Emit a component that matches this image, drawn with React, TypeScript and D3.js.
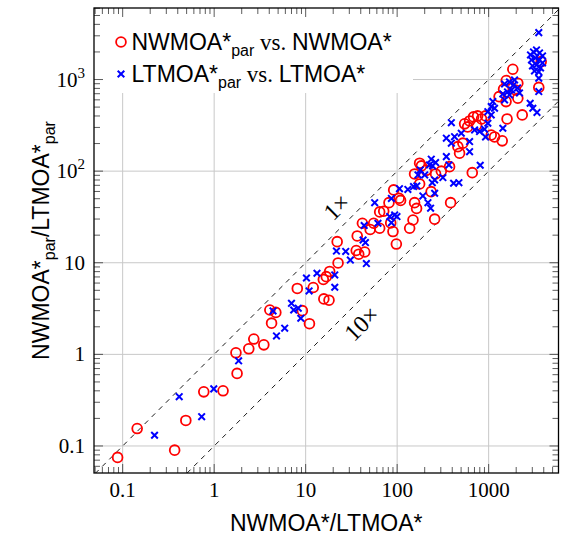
import React, { useEffect, useRef } from 'react';
import * as d3 from 'd3';

const W = 561;
const H = 535;

// NWMOA*par vs. NWMOA* (red circles), [x, y]
const nwmoaPoints: [number, number][] = [
  [0.088, 0.075], [0.144, 0.155], [0.37, 0.09], [0.49, 0.19], [0.77, 0.39], [1.25, 0.4],
  [1.73, 1.04], [1.78, 0.62], [2.39, 1.15], [2.71, 1.47], [3.49, 1.27], [4.24, 2.19],
  [4.06, 3.05], [4.72, 2.87], [9.2, 3.0], [11.0, 2.16], [8.1, 5.24], [12.1, 5.37],
  [15.6, 6.57], [16.8, 7.05], [18.3, 8.04], [15.8, 4.03], [18.0, 3.9], [22.6, 9.95],
  [22.1, 17.0], [35.7, 13.6], [38.0, 12.4], [44.2, 13.1], [36.6, 19.6], [41.7, 27.0],
  [50.7, 23.1], [55.4, 27.0], [64.4, 23.8], [64.4, 35.9], [71.3, 36.5], [81.4, 45.3],
  [85, 27.2], [90, 21.9], [98, 16.0], [91.6, 62.4], [105, 50.6], [109, 47.9],
  [155, 45.3], [163, 39.2], [149, 29.3], [137, 23.8], [176, 72.5], [235, 59.7],
  [257, 29.9], [384, 45.3], [155, 93.2], [184, 114], [208, 102], [263, 93.2],
  [304, 100], [176, 122], [374, 112], [662, 96.3], [461, 185], [481, 157],
  [523, 202], [546, 328], [589, 304], [619, 353], [684, 391], [757, 401],
  [836, 371], [925, 401], [738, 319], [1067, 248], [1160, 236], [1407, 214],
  [1589, 371], [2328, 411], [1300, 650], [1549, 574], [1455, 784], [1556, 973],
  [1837, 1295], [2084, 912], [1967, 769], [2084, 625], [3750, 1567], [3532, 820],
];

// LTMOA*par vs. LTMOA* (blue crosses), [x, y]
const ltmoaPoints: [number, number][] = [
  [0.223, 0.131], [0.415, 0.345], [0.73, 0.209], [0.99, 0.42], [1.85, 0.85], [4.8, 1.59],
  [5.9, 1.93], [4.4, 2.98], [7.0, 3.61], [7.4, 3.05], [8.3, 3.19], [8.85, 2.48],
  [10.9, 4.92], [10.2, 6.82], [13.3, 7.68], [20.8, 7.36], [20.8, 5.4], [21.7, 13.4],
  [27.4, 13.3], [30.8, 10.7], [46.1, 9.8], [42.4, 17.7], [45, 16.6], [43.6, 25.5],
  [61.7, 27.0], [56.8, 45.3], [82.8, 31.9], [94, 33.3], [99.5, 31.9], [86.5, 27.4],
  [86.5, 50.4], [106, 64.3], [131, 63.1], [151, 67.8], [164, 68.9], [191, 53.6],
  [217, 45.3], [232, 39.4], [257, 57.4], [242, 74.9], [414, 73.8], [473, 74.9],
  [169, 91], [179, 103], [226, 117], [263, 124], [236, 135], [244, 114],
  [200, 91], [316, 85], [257, 80.2], [368, 117], [809, 116], [391, 338],
  [345, 229], [391, 202], [424, 238], [502, 259], [619, 210], [619, 163],
  [702, 282], [796, 270], [902, 287], [980, 333], [1067, 411], [1067, 506],
  [1429, 294], [980, 446], [1112, 574], [1160, 486], [1493, 599], [1429, 697],
  [1690, 679], [2844, 551], [3040, 486], [3375, 437], [3530, 1033], [3530, 738],
  [3530, 3250], [2866, 1857], [3090, 2000], [3334, 2104], [3597, 1951], [3880, 1810],
  [2940, 1637], [3250, 1722], [3597, 1637], [3013, 1408], [3334, 1443], [3690, 1339],
  [3170, 1241], [3530, 1211], [3880, 1518], [1493, 896], [1690, 942], [1871, 873],
  [2069, 810], [1778, 769], [1608, 732], [2173, 714], [1919, 990], [345, 144],
  [925, 236],
];

const xTickValues = [0.1, 1, 10, 100, 1000];
const xTickLabels = ['0.1', '1', '10', '100', '1000'];
const yTickValues = [0.1, 1, 10, 100, 1000];
const yTickBase = ['0.1', '1', '10', '10', '10'];
const yTickExp = ['', '', '', '2', '3'];

// ratio lines y = x / factor, with their labels
const ratioFactors = [1, 10];
const ratioLabels = ['1×', '10×'];
const ratioLabelPos: [number, number][] = [[21.7, 40.9], [40.6, 2.19]];

const SANS = '"Liberation Sans", Arial, sans-serif';
const SERIF = '"Liberation Serif", "Times New Roman", serif';

const App = () => {
  const svgRef = useRef<SVGSVGElement>(null);

  useEffect(() => {
    if (!svgRef.current) return;
    const svg = d3.select(svgRef.current);
    svg.selectAll('*').remove();

    const x = d3.scaleLog().domain([0.0486, 5800]).range([94, 558.5]);
    const y = d3.scaleLog().domain([0.0507, 6035]).range([473, 8]);
    const [xl, xr] = x.range();
    const [yb, yt] = y.range();

    svg.append('defs').append('clipPath').attr('id', 'plotclip')
      .append('rect')
      .attr('x', xl).attr('y', yt)
      .attr('width', xr - xl).attr('height', yb - yt);

    // major grid
    const grid = svg.append('g').attr('stroke', '#c8c8c8').attr('stroke-width', 1);
    grid.selectAll('.gx').data(xTickValues).enter().append('line')
      .attr('x1', d => x(d)).attr('x2', d => x(d))
      .attr('y1', yt).attr('y2', yb);
    grid.selectAll('.gy').data(yTickValues).enter().append('line')
      .attr('y1', d => y(d)).attr('y2', d => y(d))
      .attr('x1', xl).attr('x2', xr);

    // dashed ratio lines
    const plot = svg.append('g').attr('clip-path', 'url(#plotclip)');
    const line = d3.line<[number, number]>().x(d => x(d[0])).y(d => y(d[1]));
    const [dMin, dMax] = [0.001, 100000];
    ratioFactors.forEach(f => {
      plot.append('path')
        .attr('d', line([[dMin, dMin / f], [dMax, dMax / f]]))
        .attr('fill', 'none')
        .attr('stroke', '#000')
        .attr('stroke-width', 0.9)
        .attr('stroke-dasharray', '5,5');
    });

    // red circles
    plot.selectAll('.nw').data(nwmoaPoints).enter().append('circle')
      .attr('cx', d => x(d[0])).attr('cy', d => y(d[1]))
      .attr('r', 4.9)
      .attr('fill', 'none')
      .attr('stroke', '#ff0000')
      .attr('stroke-width', 1.8);

    // blue crosses
    const cross = 'M-3.3,-3.3L3.3,3.3M-3.3,3.3L3.3,-3.3';
    plot.selectAll('.lt').data(ltmoaPoints).enter().append('path')
      .attr('d', cross)
      .attr('transform', d => `translate(${x(d[0])},${y(d[1])})`)
      .attr('fill', 'none')
      .attr('stroke', '#0000ff')
      .attr('stroke-width', 2);

    // ratio labels
    ratioLabels.forEach((t, i) => {
      const [lx, ly] = ratioLabelPos[i];
      svg.append('text')
        .attr('transform', `translate(${x(lx)},${y(ly)}) rotate(-45)`)
        .attr('text-anchor', 'middle')
        .attr('dy', '0.35em')
        .attr('font-family', SERIF)
        .attr('font-size', 24)
        .text(t);
    });

    // legend background
    svg.append('rect')
      .attr('x', xl).attr('y', yt)
      .attr('width', 413 - xl).attr('height', 93 - yt)
      .attr('fill', '#fff');

    // ticks (all four sides, inward)
    const minorX = x.ticks().filter(v => !xTickValues.includes(v));
    const minorY = y.ticks().filter(v => !yTickValues.includes(v));
    const ticks = svg.append('g').attr('stroke', '#333').attr('stroke-width', 0.8);
    const drawX = (vals: number[], len: number) => {
      vals.forEach(v => {
        ticks.append('line').attr('x1', x(v)).attr('x2', x(v)).attr('y1', yb).attr('y2', yb - len);
        ticks.append('line').attr('x1', x(v)).attr('x2', x(v)).attr('y1', yt).attr('y2', yt + len);
      });
    };
    const drawY = (vals: number[], len: number) => {
      vals.forEach(v => {
        ticks.append('line').attr('y1', y(v)).attr('y2', y(v)).attr('x1', xl).attr('x2', xl + len);
        ticks.append('line').attr('y1', y(v)).attr('y2', y(v)).attr('x1', xr).attr('x2', xr - len);
      });
    };
    drawX(minorX, 6);
    drawX(xTickValues, 9);
    drawY(minorY, 6);
    drawY(yTickValues, 9);

    // frame
    svg.append('rect')
      .attr('x', xl).attr('y', yt)
      .attr('width', xr - xl).attr('height', yb - yt)
      .attr('fill', 'none')
      .attr('stroke', '#000')
      .attr('stroke-width', 1.3);

    // x tick labels
    svg.selectAll('.xl').data(xTickValues).enter().append('text')
      .attr('x', d => x(d)).attr('y', 497)
      .attr('text-anchor', 'middle')
      .attr('font-family', SERIF)
      .attr('font-size', 21)
      .text((d, i) => xTickLabels[i]);

    // y tick labels
    yTickValues.forEach((v, i) => {
      const t = svg.append('text')
        .attr('x', 85).attr('y', y(v) + 7)
        .attr('text-anchor', 'end')
        .attr('font-family', SERIF)
        .attr('font-size', 21);
      t.append('tspan').text(yTickBase[i]);
      if (yTickExp[i]) {
        t.append('tspan').attr('font-size', 15).attr('dy', -9).text(yTickExp[i]);
      }
    });

    // axis titles
    svg.append('text')
      .attr('x', (xl + xr) / 2).attr('y', 531)
      .attr('text-anchor', 'middle')
      .attr('font-family', SANS)
      .attr('font-size', 23)
      .text('NWMOA*/LTMOA*');

    const yTitle = svg.append('text')
      .attr('transform', `translate(49,${(yt + yb) / 2}) rotate(-90)`)
      .attr('text-anchor', 'middle')
      .attr('font-family', SANS)
      .attr('font-size', 23);
    yTitle.append('tspan').text('NWMOA*');
    yTitle.append('tspan').attr('font-size', 16).attr('dy', 6).text('par');
    yTitle.append('tspan').attr('dy', -6).text('/LTMOA*');
    yTitle.append('tspan').attr('font-size', 16).attr('dy', 6).text('par');

    // legend entries
    const legend = [
      { name: 'NWMOA*', base: 'NWMOA*', color: '#ff0000', circle: true },
      { name: 'LTMOA*', base: 'LTMOA*', color: '#0000ff', circle: false },
    ];
    legend.forEach((e, i) => {
      const cy = 42 + i * 32;
      if (e.circle) {
        svg.append('circle').attr('cx', 121).attr('cy', cy).attr('r', 4.9)
          .attr('fill', 'none').attr('stroke', e.color).attr('stroke-width', 1.8);
      } else {
        svg.append('path').attr('d', cross).attr('transform', `translate(121,${cy})`)
          .attr('fill', 'none').attr('stroke', e.color).attr('stroke-width', 2);
      }
      const t = svg.append('text')
        .attr('x', 131.5).attr('y', cy + 8)
        .attr('font-family', SANS)
        .attr('font-size', 23)
        .style('white-space', 'pre');
      t.append('tspan').text(e.name);
      t.append('tspan').attr('font-size', 16).attr('dy', 6).text('par');
      t.append('tspan').attr('dy', -6).attr('font-family', SERIF).text(' vs. ');
      t.append('tspan').text(e.base);
    });
  }, []);

  return (
    <div style={{ position: 'absolute', left: 0, top: 0 }}>
      <svg ref={svgRef} width={W} height={H} style={{ display: 'block', background: '#fff' }} />
    </div>
  );
};

export default App;
